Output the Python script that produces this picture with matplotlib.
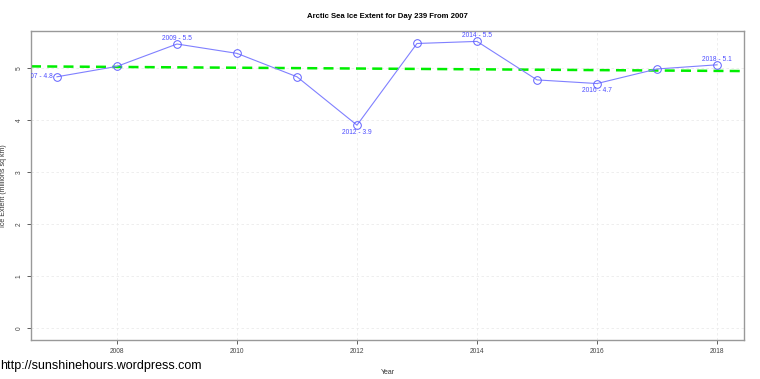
import numpy as np
import matplotlib.pyplot as plt

plt.rcParams['font.family'] = ['Liberation Sans', 'DejaVu Sans']

years = [2007, 2008, 2009, 2010, 2011, 2012, 2013, 2014, 2015, 2016, 2017, 2018]
extent = [4.83, 5.03, 5.46, 5.28, 4.83, 3.90, 5.47, 5.51, 4.77, 4.70, 4.98, 5.06]
label_years = [2007, 2009, 2012, 2014, 2016, 2018]
label_pos = ['left', 'above', 'below', 'above', 'below', 'above']

fig = plt.figure(figsize=(7.6, 3.79), dpi=100)
ax = fig.add_axes([31 / 760, 39 / 379, 713 / 760, 309 / 379])

ax.set_xlim(2006.567, 2018.45)
ax.set_ylim(-0.23, 5.71)

ax.grid(True, color='#ebebeb', linestyle=(0, (3, 3)), linewidth=0.6)
ax.set_axisbelow(True)

# trend line across the full plot width
coef = np.polyfit(years, extent, 1)
xs = np.array(ax.get_xlim())
ax.plot(xs, np.polyval(coef, xs), color='#00ee00', linewidth=1.8,
        linestyle=(0, (4, 2.5)), zorder=2)

ax.plot(years, extent, color='#8080ff', linewidth=0.8, marker='o',
        markersize=5.5, markerfacecolor='none', markeredgecolor='#6060ff',
        markeredgewidth=0.7, zorder=3)

for yr, pos in zip(label_years, label_pos):
    v = extent[years.index(yr)]
    txt = f"{yr} - {v:.1f}"
    if pos == 'left':
        off, ha, va = (-3, 0), 'right', 'center'
    elif pos == 'above':
        off, ha, va = (0, 1.5), 'center', 'bottom'
    else:
        off, ha, va = (0, -2.5), 'center', 'top'
    ax.annotate(txt, (yr, v), xytext=off, textcoords='offset points',
                ha=ha, va=va, fontsize=4.8, color='#4d4dff', zorder=4,
                clip_on=True)

ax.set_xticks([2008, 2010, 2012, 2014, 2016, 2018])
ax.set_yticks([0, 1, 2, 3, 4, 5])
ax.tick_params(axis='both', labelsize=4.8, colors='#444444', length=3,
               width=0.6, direction='out', pad=3)
for lab in ax.get_yticklabels():
    lab.set_rotation(90)
    lab.set_va('center')
for sp in ax.spines.values():
    sp.set_color('#999999')
    sp.set_linewidth(1.0)

ax.set_xlabel('Year', fontsize=5, color='#333333', labelpad=10)
ax.set_ylabel('Ice Extent (millions sq km)', fontsize=5, color='#333333',
              labelpad=6)

fig.text(387 / 760, 1 - 16 / 379, 'Arctic Sea Ice Extent for Day 239 From 2007',
         ha='center', va='center', fontsize=5.6, fontweight='bold')
fig.text(0.0, 1 - 366 / 379, 'http://sunshinehours.wordpress.com',
         ha='left', va='center', fontsize=9, color='black')

fig.savefig('out.png', dpi=100)
